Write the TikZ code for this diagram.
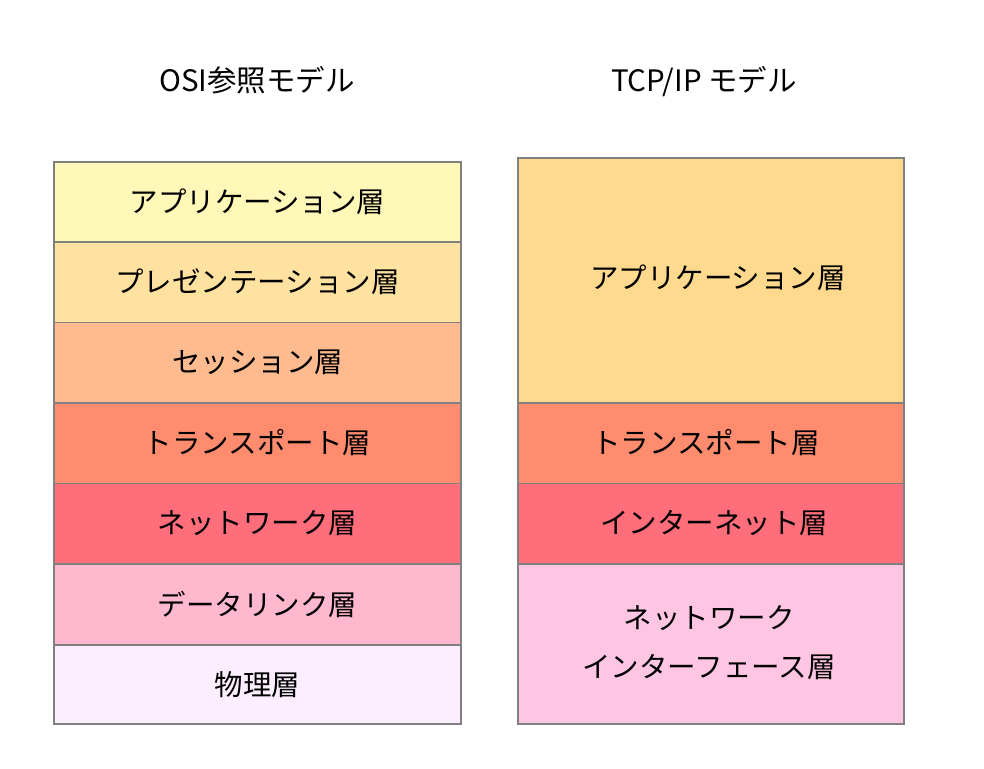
\documentclass[tikz,border=0pt]{standalone}
\usepackage{fontspec}
\setmainfont{Noto Sans CJK JP}
\begin{document}
\begin{tikzpicture}[x=1pt,y=-1pt,
  layer/.style={draw=black!50, line width=1.5pt},
  lbl/.style={font=\fontsize{28.5}{34}\selectfont, text=black, align=center},
  ttl/.style={font=\fontsize{29.5}{34}\selectfont, text=black}]
\definecolor{c1}{HTML}{FFF8B8}
\definecolor{c2}{HTML}{FFE2A0}
\definecolor{c3}{HTML}{FFBB90}
\definecolor{c4}{HTML}{FF8C6E}
\definecolor{c5}{HTML}{FF6E7A}
\definecolor{c6}{HTML}{FFB8CE}
\definecolor{c7}{HTML}{FDEEFF}
\definecolor{r1}{HTML}{FFDA8E}
\definecolor{r4}{HTML}{FFC6E4}
\useasboundingbox[fill=white] (0,0) rectangle (984,768);
% titles
\node[ttl] (tosi) at (257,80) {OSI参照モデル};
\node[ttl] (ttcp) at (704,82) {TCP/IP モデル};
% OSI layers
\draw[layer, fill=c1] (54,162) rectangle (461,242);
\draw[layer, fill=c2] (54,242) rectangle (461,322.5);
\draw[layer, fill=c3] (54,322.5) rectangle (461,403);
\draw[layer, fill=c4] (54,403) rectangle (461,483.5);
\draw[layer, fill=c5] (54,483.5) rectangle (461,564);
\draw[layer, fill=c6] (54,564) rectangle (461,645);
\draw[layer, fill=c7] (54,645) rectangle (461,724);
\node[lbl] (o1) at (257.5,202) {アプリケーション層};
\node[lbl] (o2) at (257.5,282) {プレゼンテーション層};
\node[lbl] (o3) at (257.5,362.5) {セッション層};
\node[lbl] (o4) at (257.5,443) {トランスポート層};
\node[lbl] (o5) at (257.5,523.5) {ネットワーク層};
\node[lbl] (o6) at (257.5,604) {データリンク層};
\node[lbl] (o7) at (257.5,684.5) {物理層};
% TCP/IP layers
\draw[layer, fill=r1] (518,158) rectangle (904,403);
\draw[layer, fill=c4] (518,403) rectangle (904,483.5);
\draw[layer, fill=c5] (518,483.5) rectangle (904,564);
\draw[layer, fill=r4] (518,564) rectangle (904,724);
\node[lbl] (t1) at (718,278) {アプリケーション層};
\node[lbl] (t2) at (706,443) {トランスポート層};
\node[lbl] (t3) at (714,523.5) {インターネット層};
\node[lbl, font=\fontsize{28.5}{49}\selectfont] (t4) at (709,643) {ネットワーク\\インターフェース層};
\end{tikzpicture}
\end{document}
